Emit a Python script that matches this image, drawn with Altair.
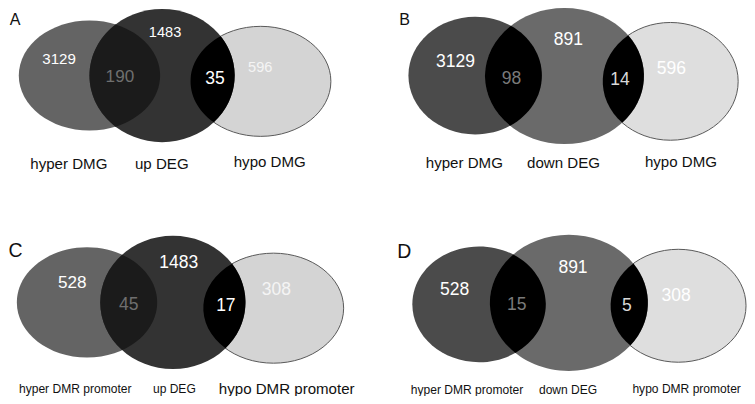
import math
import altair as alt
import pandas as pd

# ---------------- data ----------------
panel_letters = ["A", "B", "C", "D"]
letter_x = [8.3, 405.0, 8.8, 404.7]
letter_y = [12.5, 12.0, 252.0, 252.5]
letter_size = [16.5, 16.5, 20.0, 20.0]

# region counts: only-left, left∩centre, only-centre, centre∩right, only-right
counts_A = [3129, 190, 1483, 35, 596]
counts_B = [3129, 98, 891, 14, 596]
counts_C = [528, 45, 1483, 17, 308]
counts_D = [528, 15, 891, 5, 308]

set_names_A = ["hyper DMG", "up DEG", "hypo DMG"]
set_names_B = ["hyper DMG", "down DEG", "hypo DMG"]
set_names_C = ["hyper DMR promoter", "up DEG", "hypo DMR promoter"]
set_names_D = ["hyper DMR promoter", "down DEG", "hypo DMR promoter"]

# ---------------- layout (reference pixel units) ----------------
# ellipse (cx, cy, rx, ry) for left, centre, right sets
ell_A = [(84, 71, 72, 57), (158, 71, 74, 69), (258.5, 77, 71.5, 57)]
ell_B = [(477, 71, 68, 61), (568, 71.5, 81, 70.5), (676, 77, 69, 61)]
ell_C = [(81.5, 306, 71.5, 57), (169, 306, 74, 69), (271.5, 312, 71.5, 57)]
ell_D = [(481, 308, 68, 60), (572.5, 306.5, 80.5, 70.5), (684, 309.5, 69, 58.5)]

# fills: left, centre, right, left∩centre, centre∩right
fill_A = ["#646464", "#333333", "#d4d4d4", "#1b1b1b", "#000000"]
fill_B = ["#4b4b4b", "#6a6a6a", "#dedede", "#000000", "#000000"]

count_pos_A = [(53, 53), (115, 71.5), (161, 26), (212, 73), (258, 62.5)]
count_pos_B = [(457, 56), (514, 73), (572, 33), (624.5, 74), (677, 63)]
count_pos_C = [(66.5, 285), (124, 308), (175, 264.5), (223, 308.5), (274.5, 292.3)]
count_pos_D = [(456, 291.7), (519.3, 307.7), (576.7, 269), (631.7, 309), (681.7, 298.3)]

count_size_A = [15.5, 17.6, 15.0, 18.0, 15.0]
count_size_B = [18.0] * 5
count_size_C = [17.6, 18.0, 18.0, 18.0, 18.0]
count_size_D = [18.0] * 5

count_col_A = ["#ffffff", "#6f6f6f", "#ffffff", "#ffffff", "#f4f4f4"]
count_col_B = ["#ffffff", "#7a7a7a", "#ffffff", "#d9d9d9", "#ffffff"]

label_pos_A = [(63, 162), (157.7, 162), (267.7, 159.5)]
label_pos_B = [(466, 161), (567, 161), (686.7, 159.5)]
label_pos_C = [(69.5, 394.7), (170.5, 395), (285, 394.7)]
label_pos_D = [(468.7, 395.8), (571.7, 396), (692.5, 394.5)]
label_size_A = [15.5, 15.5, 15.5]
label_size_B = [15.5, 15.5, 15.5]
label_size_C = [12.4, 12.4, 15.5]
label_size_D = [12.4, 12.4, 12.4]

# ---------------- scales ----------------
X0, X1 = 1, 754
Y0, Y1 = 1, 403
W, H = 739, 388
kx = W / (X1 - X0)
ky = H / (Y1 - Y0)
kf = (kx + ky) / 2
FONT = "Liberation Sans"


def ellipse_path(rx, ry):
    a, b = rx * kx, ry * ky
    return (f"M {-a:.3f} 0 A {a:.3f} {b:.3f} 0 1 1 {a:.3f} 0 "
            f"A {a:.3f} {b:.3f} 0 1 1 {-a:.3f} 0 Z")


def lens_path(e1, e2):
    cx1, cy1, a1, b1 = e1
    cx2, cy2, a2, b2 = e2

    def f(t):
        px = cx1 + a1 * math.cos(t)
        py = cy1 + b1 * math.sin(t)
        return ((px - cx2) / a2) ** 2 + ((py - cy2) / b2) ** 2 - 1

    def root(lo, hi):
        flo = f(lo)
        for _ in range(80):
            mid = (lo + hi) / 2
            fm = f(mid)
            if (fm > 0) == (flo > 0):
                lo, flo = mid, fm
            else:
                hi = mid
        return (lo + hi) / 2

    tt = root(-math.pi / 2, 0.0)
    tb = root(math.pi / 2, 0.0)
    top = ((a1 * math.cos(tt)) * kx, (b1 * math.sin(tt)) * ky)
    bot = ((a1 * math.cos(tb)) * kx, (b1 * math.sin(tb)) * ky)
    return (f"M {top[0]:.3f} {top[1]:.3f} "
            f"A {a2 * kx:.3f} {b2 * ky:.3f} 0 0 0 {bot[0]:.3f} {bot[1]:.3f} "
            f"A {a1 * kx:.3f} {b1 * ky:.3f} 0 0 0 {top[0]:.3f} {top[1]:.3f} Z")


panels = [
    (ell_A, fill_A, counts_A, count_pos_A, count_size_A, count_col_A, set_names_A, label_pos_A, label_size_A),
    (ell_B, fill_B, counts_B, count_pos_B, count_size_B, count_col_B, set_names_B, label_pos_B, label_size_B),
    (ell_C, fill_A, counts_C, count_pos_C, count_size_C, count_col_A, set_names_C, label_pos_C, label_size_C),
    (ell_D, fill_B, counts_D, count_pos_D, count_size_D, count_col_B, set_names_D, label_pos_D, label_size_D),
]

shape_rows = []
text_rows = []
for ells, fills, cnts, cpos, csz, ccol, names, lpos, lsz in panels:
    L, C, R = ells
    # draw order: right, left, centre, lenses
    for e, col, sw in [(R, fills[2], 1.0), (L, fills[0], 0.0), (C, fills[1], 0.0)]:
        shape_rows.append(dict(x=e[0], y=e[1], shape=ellipse_path(e[2], e[3]),
                               fill=col, stroke="#5a5a5a" if sw else col, sw=sw))
    shape_rows.append(dict(x=L[0], y=L[1], shape=lens_path(L, C), fill=fills[3], stroke=fills[3], sw=0.0))
    shape_rows.append(dict(x=C[0], y=C[1], shape=lens_path(C, R), fill=fills[4], stroke=fills[4], sw=0.0))
    for v, (px, py), s, c in zip(cnts, cpos, csz, ccol):
        fs = s * kf
        text_rows.append(dict(x=px, y=py + 0.06 * s, t=str(v), size=fs, color=c))
    for n, (px, py), s in zip(names, lpos, lsz):
        text_rows.append(dict(x=px, y=py + 0.06 * s, t=n, size=s * kf, color="#111111"))

for L_, x_, y_, s_ in zip(panel_letters, letter_x, letter_y, letter_size):
    text_rows.append(dict(x=x_, y=y_ + 0.06 * s_, t=L_, size=s_ * kf, color="#111111"))

shapes = pd.DataFrame(shape_rows)
shapes["order"] = range(len(shapes))
texts = pd.DataFrame(text_rows)

xs = alt.Scale(domain=[X0, X1], nice=False, zero=False)
ys = alt.Scale(domain=[Y0, Y1], nice=False, zero=False, reverse=True)

shape_layer = alt.Chart(shapes).mark_point(filled=True, opacity=1).encode(
    x=alt.X("x:Q", scale=xs, axis=None),
    y=alt.Y("y:Q", scale=ys, axis=None),
    shape=alt.Shape("shape:N", scale=None),
    fill=alt.Fill("fill:N", scale=None),
    stroke=alt.Stroke("stroke:N", scale=None),
    strokeWidth=alt.StrokeWidth("sw:Q", scale=None),
    order=alt.Order("order:Q"),
    size=alt.value(4),
)

text_layer = alt.Chart(texts).mark_text(font=FONT, baseline="middle", align="center").encode(
    x=alt.X("x:Q", scale=xs, axis=None),
    y=alt.Y("y:Q", scale=ys, axis=None),
    text="t:N",
    size=alt.Size("size:Q", scale=None),
    color=alt.Color("color:N", scale=None),
)

chart = alt.layer(shape_layer, text_layer).properties(
    width=W, height=H, padding=0, autosize="none", background="white"
).configure_view(stroke=None)

chart.save("out.html", embed_options={"renderer": "svg", "actions": False})
